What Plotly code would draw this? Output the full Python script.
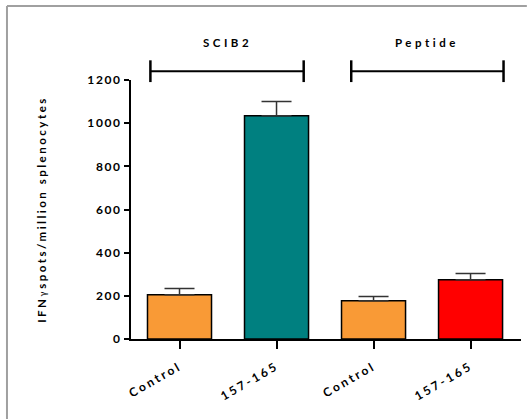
import plotly.graph_objects as go

categories = ["Control", "157-165", "Control ", "157-165 "]
tick_labels = ["Control", "157-165", "Control", "157-165"]
values = [205, 1034, 177, 274]
errors = [29, 66, 20, 30]
colors = ["#F99A36", "#008080", "#F99A36", "#FF0000"]
groups = ["SCIB2", "Peptide"]
group_members = [[0, 1], [2, 3]]
y_ticks = [0, 200, 400, 600, 800, 1000, 1200]

FONT = "Lato, 'Open Sans', sans-serif"

def spaced(t, sp=1.5):
    return f"<span style='letter-spacing:{sp}px'>{t}</span>"

x_idx = list(range(len(categories)))

fig = go.Figure()
fig.add_trace(go.Bar(
    x=x_idx, y=values, width=0.66,
    marker=dict(color=colors, line=dict(color="#000000", width=1.5)),
    error_y=dict(type="data", symmetric=False, array=errors,
                 arrayminus=[0] * len(errors),
                 color="#333333", thickness=1.5, width=15),
))

shapes = []
annotations = []
bracket_ext = [(-0.3, 0.28), (-0.23, 0.34)]
for g, members, (el, er) in zip(groups, group_members, bracket_ext):
    x0 = members[0] + el
    x1 = members[-1] + er
    yb = 1.034
    shapes.append(dict(type="line", xref="x", yref="paper", x0=x0, x1=x1, y0=yb, y1=yb,
                       line=dict(color="#000000", width=2)))
    for xv in (x0, x1):
        shapes.append(dict(type="line", xref="x", yref="paper", x0=xv, x1=xv,
                           y0=yb - 0.042, y1=yb + 0.042,
                           line=dict(color="#000000", width=2.5)))
    annotations.append(dict(x=(x0 + x1) / 2, xref="x",
                            y=1.143, yref="paper", yanchor="middle",
                            text="<b>" + spaced(g, 3.5) + "</b>",
                            showarrow=False, font=dict(size=11.5, color="#000000", family=FONT)))

# outer frame (left and top edges only visible)
shapes.append(dict(type="line", xref="paper", yref="paper", x0=-0.318, x1=1.015, y0=1.286, y1=1.286,
                   line=dict(color="#A0A0A0", width=2), layer="below"))
shapes.append(dict(type="line", xref="paper", yref="paper", x0=-0.318, x1=-0.318, y0=-0.31, y1=1.286,
                   line=dict(color="#A0A0A0", width=2), layer="below"))

fig.update_layout(
    width=527, height=419,
    margin=dict(l=131, r=6, t=80, b=80),
    paper_bgcolor="white", plot_bgcolor="white",
    showlegend=False,
    bargap=0.34,
    shapes=shapes,
    annotations=annotations,
    font=dict(family=FONT, color="#000000"),
    xaxis=dict(
        range=[-0.5, 3.52], tickmode="array", tickvals=x_idx,
        ticktext=["<b>" + spaced(t, 2.6) + "</b>" for t in tick_labels],
        tickangle=-30, ticks="outside", ticklen=8, tickwidth=2, tickcolor="#000000",
        ticklabelstandoff=6,
        showline=True, linecolor="#000000", linewidth=2, showgrid=False, zeroline=False,
        tickfont=dict(size=12, family=FONT, color="#000000"),
    ),
    yaxis=dict(
        range=[0, 1200], tickmode="array", tickvals=y_ticks,
        ticktext=["<b>" + spaced(str(v), 1.6) + "</b>" for v in y_ticks],
        ticks="outside", ticklen=5, tickwidth=2, tickcolor="#000000",
        showline=True, linecolor="#000000", linewidth=2, showgrid=False, zeroline=False,
        tickfont=dict(size=12, family=FONT, color="#000000"),
        title=dict(text="<b>" + spaced("IFN", 2.5) + "<span style='font-weight:normal;font-size:9px'>γ</span>&nbsp;" +
                        spaced("spots/million splenocytes", 2.5) + "</b>",
                   font=dict(size=11.5, family=FONT, color="#000000"), standoff=38),
    ),
)

fig.write_html("out.html", config={"displayModeBar": False},
               post_script="document.body.style.margin='0';document.body.style.overflow='hidden';")
